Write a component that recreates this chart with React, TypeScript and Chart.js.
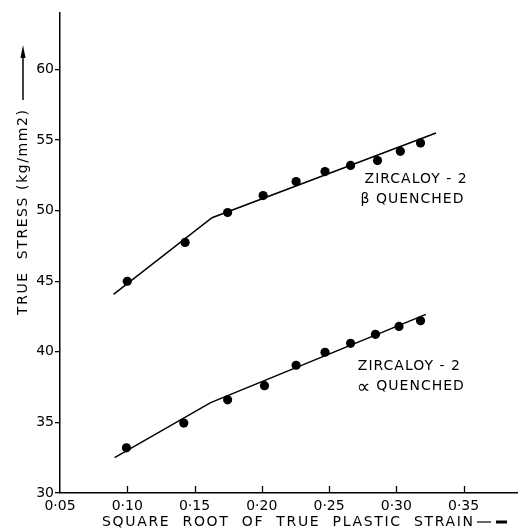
import React, { useEffect, useRef } from 'react';
import { Chart, registerables } from 'chart.js';

Chart.register(...registerables);

// β quenched series (measured points)
const betaX = [0.1, 0.143, 0.1746, 0.201, 0.2255, 0.247, 0.266, 0.286, 0.303, 0.318];
const betaY = [45.0, 47.75, 49.87, 51.07, 52.06, 52.77, 53.2, 53.55, 54.2, 54.8];
// β quenched fitted line
const betaFitX = [0.0898, 0.163, 0.3295];
const betaFitY = [44.07, 49.5, 55.5];

// α quenched series (measured points)
const alphaX = [0.0994, 0.142, 0.1746, 0.202, 0.2255, 0.247, 0.266, 0.2845, 0.302, 0.318];
const alphaY = [33.2, 34.95, 36.6, 37.6, 39.05, 39.97, 40.6, 41.24, 41.8, 42.2];
// α quenched fitted line
const alphaFitX = [0.0906, 0.162, 0.322];
const alphaFitY = [32.5, 36.4, 42.65];

// axis ranges / ticks
const xMin = 0.05;
const xMax = 0.39;
const xStep = 0.05;
const yMin = 30;
const yMax = 64;
const yStep = 5;

const xTitle = 'SQUARE  ROOT  OF  TRUE  PLASTIC  STRAIN';
const yTitle = 'TRUE  STRESS (kg/mm2)';

const labelTexts = ['ZIRCALOY - 2', 'β QUENCHED', 'ZIRCALOY - 2', '∝ QUENCHED'];
const labelXs = [0.2764, 0.2734, 0.2714, 0.2714];
const labelYs = [52.2, 50.78, 39.0, 37.52];

const FONT = '"DejaVu Sans", sans-serif';

const zip = (xs: number[], ys: number[]) => xs.map((x, i) => ({ x, y: ys[i] }));

function drawFitted(ctx: CanvasRenderingContext2D, text: string, x: number, y: number, width: number) {
  (ctx as any).letterSpacing = '0px';
  const w = ctx.measureText(text).width;
  const ls = (width - w) / Math.max(1, text.length - 1);
  (ctx as any).letterSpacing = ls + 'px';
  ctx.fillText(text, x, y);
  (ctx as any).letterSpacing = '0px';
}

const decorPlugin = {
  id: 'decor',
  afterDraw(chart: any) {
    const ctx: CanvasRenderingContext2D = chart.ctx;
    const xs = chart.scales.x;
    const ys = chart.scales.y;
    const area = chart.chartArea;
    ctx.save();
    // inward x ticks
    ctx.strokeStyle = '#000';
    ctx.lineWidth = 1.3;
    xs.ticks.forEach((t: any) => {
      if (Math.abs(t.value - xMin) < 1e-6) return;
      const px = Math.round(xs.getPixelForValue(t.value)) + 0.5;
      ctx.beginPath();
      ctx.moveTo(px, area.bottom);
      ctx.lineTo(px, area.bottom - 7);
      ctx.stroke();
    });

    ctx.fillStyle = '#000';
    ctx.textBaseline = 'middle';
    ctx.textAlign = 'left';
    ctx.font = '14px ' + FONT;

    // annotations
    labelTexts.forEach((txt, i) => {
      const px = xs.getPixelForValue(labelXs[i]);
      const py = ys.getPixelForValue(labelYs[i]);
      if (txt.startsWith('∝')) {
        ctx.font = '19px ' + FONT;
        ctx.fillText('∝', px - 1, py + 1);
        ctx.font = '14px ' + FONT;
        (ctx as any).letterSpacing = '1px';
        ctx.fillText(txt.slice(1), px + 13, py);
        (ctx as any).letterSpacing = '0px';
        return;
      }
      (ctx as any).letterSpacing = '1px';
      ctx.fillText(txt, px, py);
      (ctx as any).letterSpacing = '0px';
    });

    // x title
    ctx.font = '14px ' + FONT;
    drawFitted(ctx, xTitle, 102, 522, 371);
    ctx.lineWidth = 1.2;
    ctx.beginPath();
    ctx.moveTo(477, 522);
    ctx.lineTo(491, 522);
    ctx.stroke();
    ctx.lineWidth = 3;
    ctx.beginPath();
    ctx.moveTo(496, 522);
    ctx.lineTo(507, 522);
    ctx.stroke();

    // y title
    ctx.save();
    ctx.translate(23, 315);
    ctx.rotate(-Math.PI / 2);
    drawFitted(ctx, yTitle, 0, 0, 205);
    ctx.restore();
    ctx.lineWidth = 1.5;
    ctx.beginPath();
    ctx.moveTo(23, 100);
    ctx.lineTo(23, 55);
    ctx.stroke();
    ctx.beginPath();
    ctx.moveTo(23, 45);
    ctx.lineTo(20.5, 58);
    ctx.lineTo(25.5, 58);
    ctx.closePath();
    ctx.fill();
    ctx.restore();
  },
};

export default function App() {
  const ref = useRef<HTMLCanvasElement>(null);
  useEffect(() => {
    if (!ref.current) return;
    const pointStyle = {
      showLine: false,
      pointRadius: 4.6,
      pointBackgroundColor: '#000',
      pointBorderColor: '#000',
      pointBorderWidth: 0,
    };
    const lineStyle = {
      showLine: true,
      pointRadius: 0,
      borderColor: '#000',
      borderWidth: 1.5,
      tension: 0,
    };
    const chart = new Chart(ref.current, {
      type: 'scatter',
      data: {
        datasets: [
          { data: zip(betaFitX, betaFitY), ...lineStyle } as any,
          { data: zip(betaX, betaY), ...pointStyle } as any,
          { data: zip(alphaFitX, alphaFitY), ...lineStyle } as any,
          { data: zip(alphaX, alphaY), ...pointStyle } as any,
        ],
      },
      options: {
        animation: false,
        responsive: false,
        devicePixelRatio: 1,
        layout: { padding: { top: 13, right: 1, left: 0, bottom: 0 } },
        plugins: {
          legend: { display: false },
          tooltip: { enabled: false },
          title: { display: false },
        },
        scales: {
          x: {
            type: 'linear',
            min: xMin,
            max: xMax,
            afterFit: (s: any) => {
              s.height = 38;
            },
            border: { display: true, color: '#000', width: 1.5 },
            grid: { display: true, drawOnChartArea: false, drawTicks: false },
            ticks: {
              stepSize: xStep,
              includeBounds: false,
              maxRotation: 0,
              autoSkip: false,
              padding: 5,
              color: '#000',
              font: { family: FONT, size: 14 },
              callback: (v: any) => '0·' + String(Math.round(Number(v) * 100)).padStart(2, '0'),
            },
          },
          y: {
            type: 'linear',
            min: yMin,
            max: yMax,
            afterFit: (s: any) => {
              s.width = 60;
            },
            border: { display: true, color: '#000', width: 1.5 },
            grid: { display: true, drawOnChartArea: false, drawTicks: true, tickLength: 5, color: '#000', lineWidth: 1.3 },
            ticks: {
              stepSize: yStep,
              includeBounds: false,
              padding: 1,
              color: '#000',
              font: { family: FONT, size: 14 },
            },
          },
        },
      },
      plugins: [decorPlugin],
    });
    return () => chart.destroy();
  }, []);
  return (
    <div style={{ position: 'absolute', left: 0, top: 0, width: 522, height: 531, background: '#fff' }}>
      <canvas ref={ref} width={522} height={531} style={{ width: 522, height: 531 }} />
    </div>
  );
}
